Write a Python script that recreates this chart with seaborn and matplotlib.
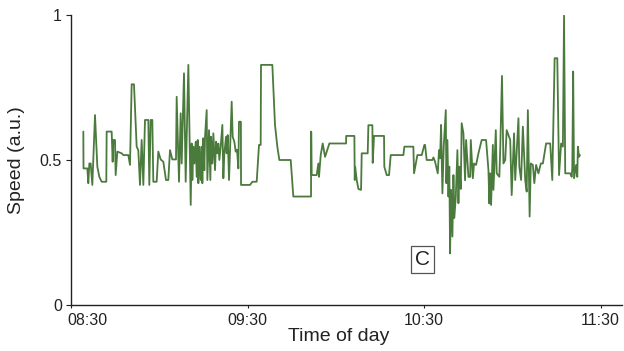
import pandas as pd
import matplotlib
matplotlib.use('Agg')
import matplotlib.pyplot as plt
import matplotlib.dates as mdates
from matplotlib.transforms import ScaledTranslation
import seaborn as sns

# --- datos: minutos desde las 08:30 y velocidad (u.a.) ---
minutos = [
    4.19, 4.25, 5.55, 5.89, 6.23, 6.68, 7.25, 8.16, 8.95, 9.63, 10.42, 12.0, 12.12, 13.82,
    14.16, 14.39, 14.95, 15.18, 15.75, 17.22, 17.79, 19.49, 20.05, 20.62, 21.41, 22.32,
    22.88, 23.45, 24.02, 24.59, 25.15, 26.28, 26.62, 27.08, 27.64, 27.98, 29.12, 29.68,
    30.48, 31.38, 32.29, 33.08, 33.65, 34.44, 35.69, 35.92, 36.71, 37.28, 37.62, 38.41,
    38.98, 39.89, 40.69,
    41.03, 41.25, 41.59, 41.93, 42.39, 42.73, 43.07, 43.29, 43.63, 44.09, 44.43, 44.65,
    44.99, 45.33, 45.56, 46.12, 46.35, 46.92, 47.37, 47.6, 48.05, 48.39, 48.96, 49.3,
    49.75, 50.09, 50.43, 50.88, 51.45, 51.79, 52.13, 52.7, 52.92, 53.26, 53.72, 54.62,
    54.96, 55.53, 55.98, 56.43, 56.89, 57.11, 57.75, 57.8,
    60.86, 61.65, 63.12, 63.91, 64.48, 64.59, 68.44, 69.35, 70.14, 70.82, 74.68, 75.58,
    81.59, 81.65, 81.82, 83.52, 84.08, 84.31, 84.88, 85.56, 86.36, 87.83, 93.5, 93.55,
    96.33, 96.45, 96.6, 97.12, 97.7, 98.6, 98.82, 100.86, 101.09, 102.45, 102.56, 103.01,
    106.41, 106.5, 107.32, 108.11, 108.68, 112.99, 113.32, 116.38, 116.61, 117.74, 119.22,
    120.12, 120.36, 120.9, 122.85, 123.2, 123.76, 124.67, 125.1, 125.46, 125.8, 126.25,
    126.7, 127.4, 127.6, 127.95, 128.3, 128.6, 128.86, 129.2, 129.65, 130.0, 130.3, 130.8,
    131.35, 131.7, 132.0, 132.5, 132.8, 133.4, 133.95, 134.3, 135.1, 135.7, 135.9, 136.6,
    137.0, 137.7, 138.5, 139.6, 141.1, 141.9, 142.2, 142.5, 142.8, 143.4, 143.6, 144.4,
    144.7, 145.6, 145.9, 146.5, 147.0, 147.6, 148.1, 149.3, 149.8, 150.6, 151.0, 152.1,
    152.4, 153.0, 153.6, 154.4, 154.9, 155.3, 155.9, 156.3, 157.0, 157.5, 158.1, 158.9,
    159.7, 160.4, 161.5, 162.9, 163.6, 164.4, 165.3, 165.9, 166.6, 167.2, 167.6, 168.0,
    169.7, 170.2, 170.4, 170.7, 171.0, 171.7, 172.1, 172.3, 172.7, 173.0,
]
velocidad = [
    0.598, 0.471, 0.471, 0.420, 0.488, 0.488, 0.414, 0.655, 0.477, 0.442, 0.425, 0.425, 0.598, 0.598,
    0.494, 0.569, 0.569, 0.448, 0.529, 0.523, 0.517, 0.517, 0.483, 0.761, 0.761, 0.546,
    0.534, 0.414, 0.569, 0.414, 0.638, 0.638, 0.414, 0.638, 0.638, 0.425, 0.425, 0.529,
    0.502, 0.494, 0.431, 0.431, 0.534, 0.502, 0.502, 0.718, 0.425, 0.661, 0.488, 0.799,
    0.425, 0.828, 0.345,
    0.557, 0.431, 0.546, 0.488, 0.563, 0.442, 0.569, 0.420, 0.546, 0.431, 0.546, 0.420,
    0.575, 0.465, 0.580, 0.672, 0.431, 0.603, 0.431, 0.580, 0.488, 0.592, 0.465, 0.563,
    0.523, 0.557, 0.500, 0.546, 0.621, 0.437, 0.523, 0.580, 0.523, 0.586, 0.431, 0.701,
    0.580, 0.563, 0.529, 0.535, 0.471, 0.632, 0.632, 0.414,
    0.414, 0.425, 0.425, 0.552, 0.552, 0.828, 0.828, 0.620, 0.546, 0.500, 0.500, 0.374,
    0.374, 0.598, 0.448, 0.448, 0.488, 0.442, 0.517, 0.557, 0.511, 0.557, 0.557, 0.583,
    0.583, 0.431, 0.477, 0.431, 0.400, 0.397, 0.523, 0.523, 0.620, 0.620, 0.490, 0.583,
    0.583, 0.477, 0.448, 0.448, 0.517, 0.517, 0.546, 0.546, 0.454, 0.517, 0.517,
    0.552, 0.552, 0.500, 0.500, 0.509, 0.494, 0.454, 0.534, 0.506, 0.621, 0.385,
    0.546, 0.672, 0.420, 0.569, 0.374, 0.477, 0.178, 0.397, 0.236, 0.448, 0.300, 0.374,
    0.534, 0.351, 0.477, 0.400, 0.627, 0.592, 0.430, 0.569, 0.442, 0.442, 0.569, 0.437,
    0.488, 0.483, 0.523, 0.569, 0.569, 0.465, 0.350, 0.454, 0.345, 0.552, 0.397, 0.603,
    0.454, 0.442, 0.534, 0.790, 0.488, 0.500, 0.603, 0.569, 0.379, 0.592, 0.431, 0.644,
    0.477, 0.431, 0.615, 0.431, 0.391, 0.672, 0.305, 0.488, 0.483, 0.420, 0.483, 0.454,
    0.488, 0.488, 0.557, 0.557, 0.431, 0.851, 0.851, 0.448, 0.557, 0.546, 0.998, 0.454,
    0.454, 0.442, 0.471, 0.805, 0.437, 0.483, 0.442, 0.546, 0.511, 0.517,
]
horas_ticks = ['08:30', '09:30', '10:30', '11:30']

inicio = pd.Timestamp('2020-01-01 08:30')
df = pd.DataFrame({
    'Hora': inicio + pd.to_timedelta(minutos, unit='m'),
    'Velocidad': velocidad,
})

sns.set_theme(style='ticks')
plt.rcParams['font.family'] = ['Liberation Sans', 'DejaVu Sans']
texto = '#222222'

fig = plt.figure(figsize=(6.24, 3.51), dpi=100)
ax = fig.add_axes([71 / 624, 46 / 351, 551 / 624, 290 / 351])

sns.lineplot(data=df, x='Hora', y='Velocidad', ax=ax, color='#4b7a3d',
             linewidth=1.3, sort=False, estimator=None)

ax.set_xlim(inicio, inicio + pd.Timedelta(minutes=187.3))
ax.set_ylim(0, 1)
ax.set_xticks([pd.Timestamp('2020-01-01 ' + h) for h in horas_ticks])
ax.xaxis.set_major_formatter(mdates.DateFormatter('%H:%M'))
ax.set_yticks([0, 0.5, 1])
ax.set_yticklabels(['0', '0.5', '1'])

sns.despine(ax=ax)
for lado in ['left', 'bottom']:
    ax.spines[lado].set_color(texto)
    ax.spines[lado].set_linewidth(1.0)
ax.tick_params(axis='both', colors=texto, labelsize=11.5, width=0.8)
ax.tick_params(axis='x', length=2.5, pad=3)
ax.tick_params(axis='y', length=3.5, pad=3)

ax.set_xlabel('Time of day', fontsize=14, color=texto)
ax.set_ylabel('Speed (a.u.)', fontsize=14, color=texto)
ax.xaxis.set_label_coords(0.486, -0.08)
ax.yaxis.set_label_coords(-0.083, 0.5)

# primera etiqueta desplazada para no chocar con el "0"
etiqueta0 = ax.get_xticklabels()[0]
etiqueta0.set_transform(etiqueta0.get_transform() + ScaledTranslation(0.16, 0, fig.dpi_scale_trans))

ax.text(inicio + pd.Timedelta(minutes=119.5), 0.157, 'C', fontsize=15, color=texto,
        ha='center', va='center',
        bbox=dict(boxstyle='square,pad=0.2', facecolor='white', edgecolor='#555555', linewidth=0.9))

fig.savefig('out.png', dpi=100)
